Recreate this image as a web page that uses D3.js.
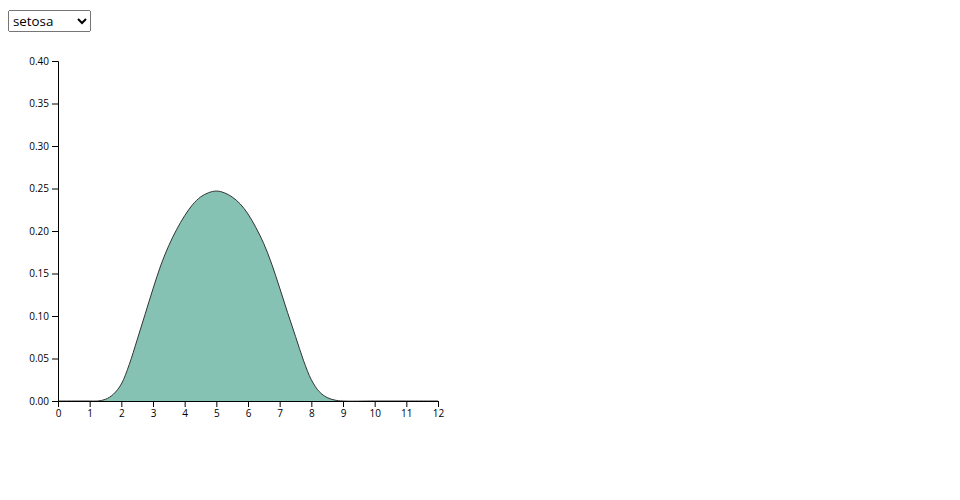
<!DOCTYPE html>
<html>
<head>
<meta charset="utf-8">
<script src="https://d3js.org/d3.v7.min.js"></script>
<style>
  body { margin: 0; width: 960px; height: 500px; position: relative; background: #fff; font-family: "Open Sans", sans-serif; }
  #selectButton { position: absolute; left: 8px; top: 10px; font-family: "Open Sans", sans-serif; font-size: 13.333px; }
  #chart { position: absolute; left: 0; top: 0; }
</style>
</head>
<body>
<select id="selectButton"></select>
<div id="chart"></div>
<script>
const groups = ["setosa", "versicolor", "virginica"];
const xTicks = [0,1,2,3,4,5,6,7,8,9,10,11,12];
const yTicks = [0,0.05,0.10,0.15,0.20,0.25,0.30,0.35,0.40];
const densityX = [0,0.5,1,1.25,1.5,1.75,2,2.25,2.5,2.75,3,3.25,3.5,3.75,4,4.25,4.5,4.75,5,5.25,5.5,5.75,6,6.25,6.5,6.75,7,7.25,7.5,7.75,8,8.25,8.5,8.75,9,10,11,12];
const densityY = [0,0,0,0,0.002,0.008,0.020,0.043,0.072,0.102,0.132,0.160,0.183,0.202,0.218,0.231,0.240,0.245,0.247,0.245,0.240,0.232,0.220,0.204,0.185,0.161,0.133,0.104,0.076,0.048,0.025,0.011,0.004,0.001,0,0,0,0];

d3.select("#selectButton").selectAll("option")
  .data(groups).join("option").text(d => d).attr("value", d => d);

const margin = {top: 61, left: 58};
const width = 380, height = 340;
const svg = d3.select("#chart").append("svg").attr("width", 960).attr("height", 500)
  .append("g").attr("transform", `translate(${margin.left},${margin.top})`);

const x = d3.scaleLinear().domain([0, 12]).range([0, width]);
const y = d3.scaleLinear().domain([0, 0.4]).range([height, 0]);

svg.append("g").attr("transform", `translate(0,${height})`)
  .call(d3.axisBottom(x).tickValues(xTicks).tickFormat(d3.format("d")));
svg.append("g").call(d3.axisLeft(y).tickValues(yTicks).tickFormat(d3.format(".2f")));
svg.selectAll(".tick text").attr("font-family", "'Open Sans', sans-serif");

const pts = densityX.map((v, i) => [v, densityY[i]]);
svg.append("path").datum(pts)
  .attr("fill", "#69b3a2").attr("opacity", 0.8)
  .attr("stroke", "#000").attr("stroke-width", 1).attr("stroke-linejoin", "round")
  .attr("d", d3.line().curve(d3.curveCatmullRom.alpha(0.5)).x(d => x(d[0])).y(d => y(Math.max(0, d[1]))));
</script>
</body>
</html>
